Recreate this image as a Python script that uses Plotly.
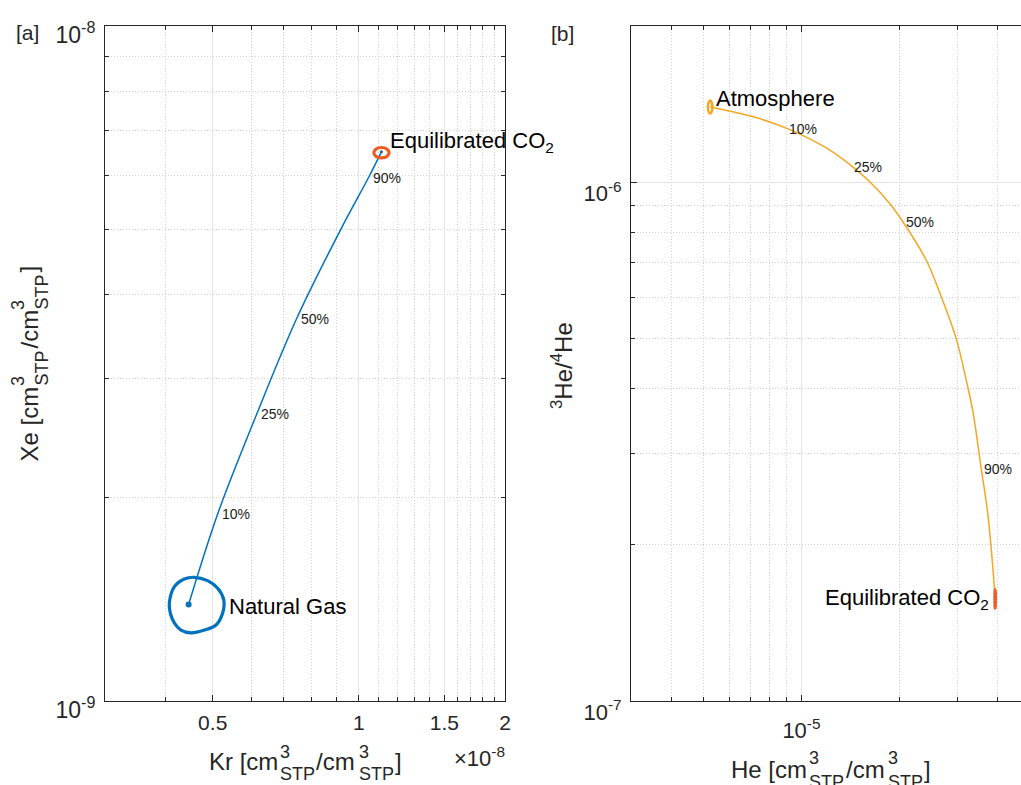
import numpy as np
import plotly.graph_objects as go

W, H = 1021, 785
FONT = "Liberation Sans, Arial, sans-serif"
AX = "#262626"
BLUE = "#0072BD"
RED = "#EF5B25"
YEL = "#F5A623"

# ---------------- Panel [a] data (Kr, Xe in cm3STP/cm3STP) ----------------
mix_a_kr = [0.446e-8, 0.513e-8, 0.617e-8, 0.745e-8, 0.918e-8, 1.049e-8, 1.113e-8]
mix_a_xe = [1.390e-9, 1.901e-9, 2.668e-9, 3.690e-9, 4.998e-9, 5.980e-9, 6.510e-9]

ng_kr = [0.407e-8, 0.417e-8, 0.437e-8, 0.458e-8, 0.488e-8, 0.512e-8, 0.527e-8, 0.524e-8,
         0.508e-8, 0.481e-8, 0.451e-8, 0.430e-8, 0.417e-8, 0.409e-8, 0.407e-8]
ng_xe = [1.395e-9, 1.477e-9, 1.516e-9, 1.525e-9, 1.508e-9, 1.469e-9, 1.411e-9, 1.349e-9,
         1.296e-9, 1.274e-9, 1.262e-9, 1.274e-9, 1.304e-9, 1.349e-9, 1.395e-9]

co2a_kr = [1.154e-8, 1.142e-8, 1.113e-8, 1.085e-8, 1.074e-8, 1.085e-8, 1.113e-8, 1.142e-8, 1.154e-8]
co2a_xe = [6.492e-9, 6.573e-9, 6.607e-9, 6.573e-9, 6.492e-9, 6.409e-9, 6.377e-9, 6.409e-9, 6.492e-9]

pct_labels = ["10%", "25%", "50%", "90%"]
pct_a_kr = [0.513e-8, 0.617e-8, 0.745e-8, 1.049e-8]
pct_a_xe = [1.901e-9, 2.668e-9, 3.690e-9, 5.980e-9]

# ---------------- Panel [b] data (He, 3He/4He) ----------------
mix_b_he = [0.525e-5, 0.726e-5, 0.898e-5, 1.034e-5, 1.219e-5, 1.423e-5, 1.617e-5, 1.862e-5,
            2.045e-5, 2.413e-5, 2.683e-5, 2.982e-5, 3.201e-5, 3.363e-5, 3.558e-5, 3.728e-5,
            3.862e-5, 3.928e-5]
mix_b_r = [1.396e-6, 1.332e-6, 1.271e-6, 1.221e-6, 1.154e-6, 1.075e-6, 1.003e-6, 0.911e-6,
           0.840e-6, 0.708e-6, 0.602e-6, 0.500e-6, 0.416e-6, 0.359e-6, 0.281e-6, 0.230e-6,
           0.1815e-6, 0.1572e-6]

atm_he = [0.5330e-5, 0.5306e-5, 0.5248e-5, 0.5190e-5, 0.5166e-5, 0.5190e-5, 0.5248e-5, 0.5306e-5, 0.5330e-5]
atm_r = [1.396e-6, 1.425e-6, 1.437e-6, 1.425e-6, 1.396e-6, 1.367e-6, 1.356e-6, 1.367e-6, 1.396e-6]

co2b_he = [3.934e-5, 3.932e-5, 3.928e-5, 3.924e-5, 3.922e-5, 3.924e-5, 3.928e-5, 3.932e-5, 3.934e-5]
co2b_r = [0.1572e-6, 0.1618e-6, 0.1638e-6, 0.1618e-6, 0.1572e-6, 0.1527e-6, 0.1510e-6, 0.1527e-6, 0.1572e-6]

pct_b_he = [0.898e-5, 1.423e-5, 2.045e-5, 3.558e-5]
pct_b_r = [1.271e-6, 1.075e-6, 0.840e-6, 0.281e-6]

# tick values
a_x_major = [0.5e-8, 1e-8, 1.5e-8, 2e-8]
a_x_major_text = ["0.5", "1", "1.5", "2"]
a_x_minor = [0.3e-8, 0.4e-8, 0.6e-8, 0.7e-8, 0.8e-8, 0.9e-8, 1.1e-8, 1.2e-8, 1.3e-8, 1.4e-8,
             1.6e-8, 1.7e-8, 1.8e-8, 1.9e-8]
a_y_major = [1e-9, 1e-8]
a_y_major_text = ["10<sup>-9</sup>", "10<sup>-8</sup>"]
a_y_minor = [2e-9, 3e-9, 4e-9, 5e-9, 6e-9, 7e-9, 8e-9, 9e-9]
b_x_major = [1e-5]
b_x_major_text = ["10<sup>-5</sup>"]
b_x_minor = [3e-6, 4e-6, 5e-6, 6e-6, 7e-6, 8e-6, 9e-6, 2e-5, 3e-5, 4e-5]
b_y_major = [1e-7, 1e-6]
b_y_major_text = ["10<sup>-7</sup>", "10<sup>-6</sup>"]
b_y_minor = [2e-7, 3e-7, 4e-7, 5e-7, 6e-7, 7e-7, 8e-7, 9e-7, 2e-6]

fig = go.Figure()

# Panel a traces
fig.add_trace(go.Scatter(x=mix_a_kr, y=mix_a_xe, mode="lines", line=dict(color=BLUE, width=1.5, shape="spline"),
                         xaxis="x", yaxis="y", hoverinfo="skip"))
fig.add_trace(go.Scatter(x=ng_kr, y=ng_xe, mode="lines", line=dict(color=BLUE, width=3.2, shape="spline"),
                         xaxis="x", yaxis="y", hoverinfo="skip"))
fig.add_trace(go.Scatter(x=co2a_kr, y=co2a_xe, mode="lines", line=dict(color=RED, width=3.2, shape="spline"),
                         xaxis="x", yaxis="y", hoverinfo="skip"))
fig.add_trace(go.Scatter(x=[mix_a_kr[0]], y=[mix_a_xe[0]], mode="markers",
                         marker=dict(color=BLUE, size=6), xaxis="x", yaxis="y", hoverinfo="skip"))
fig.add_trace(go.Scatter(x=[mix_a_kr[-1]], y=[mix_a_xe[-1]], mode="markers",
                         marker=dict(color="#3a5a80", size=3), xaxis="x", yaxis="y", hoverinfo="skip"))

# Panel b traces
fig.add_trace(go.Scatter(x=mix_b_he, y=mix_b_r, mode="lines", line=dict(color=YEL, width=1.5, shape="spline"),
                         xaxis="x2", yaxis="y2", hoverinfo="skip"))
fig.add_trace(go.Scatter(x=atm_he, y=atm_r, mode="lines", line=dict(color=YEL, width=2.5, shape="spline"),
                         xaxis="x2", yaxis="y2", hoverinfo="skip"))
fig.add_trace(go.Scatter(x=co2b_he, y=co2b_r, mode="lines", line=dict(color=RED, width=3.2, shape="spline"),
                         xaxis="x2", yaxis="y2", hoverinfo="skip"))

ann = []


def txt(s, x, y, size, xanchor="left", yanchor="middle", angle=0, color=AX):
    ann.append(dict(text=s, x=x / W, y=1 - y / H, xref="paper", yref="paper", showarrow=False,
                    xanchor=xanchor, yanchor=yanchor, textangle=angle, borderpad=0,
                    font=dict(family=FONT, size=size, color=color)))


def dtxt(s, xv, yv, xr, yr, size, xanchor="left", xshift=0, yshift=0, color="#000000"):
    ann.append(dict(text=s, x=np.log10(xv), y=np.log10(yv), xref=xr, yref=yr, showarrow=False,
                    xanchor=xanchor, yanchor="middle", xshift=xshift, yshift=yshift, borderpad=0,
                    font=dict(family=FONT, size=size, color=color)))


# percent labels
for lab, xv, yv in zip(pct_labels, pct_a_kr, pct_a_xe):
    dtxt(lab, xv, yv, "x", "y", 14, xshift=3, yshift=-1, color="#1a1a1a")
for lab, xv, yv in zip(pct_labels, pct_b_he, pct_b_r):
    dtxt(lab, xv, yv, "x2", "y2", 14, xshift=2, yshift=-1, color="#1a1a1a")

# end-member labels
dtxt("Natural Gas", mix_a_kr[0], mix_a_xe[0], "x", "y", 22, xshift=39, yshift=-2)
dtxt("Equilibrated CO<sub>2</sub>", mix_a_kr[-1], mix_a_xe[-1], "x", "y", 22, xshift=8, yshift=10)
dtxt("Atmosphere", atm_he[2], 1.396e-6, "x2", "y2", 22, xshift=5, yshift=9)
dtxt("Equilibrated CO<sub>2</sub>", mix_b_he[-1], mix_b_r[-1], "x2", "y2", 22, xanchor="right",
     xshift=-5, yshift=0)

# panel labels
txt("[a]", 27, 33, 21, xanchor="center")
txt("[b]", 562, 34, 21, xanchor="center")

# exponent label
txt("\u00d710<sup>-8</sup>", 506, 757, 22, xanchor="right")

# Kr title (stacked super/subscripts)
TS, SS = 24, 18
txt("Kr [cm", 279, 761.5, TS, xanchor="right")
txt("3", 279, 752, SS)
txt("STP", 279, 774, SS)
txt("/cm", 315, 761.5, TS)
txt("3", 357.5, 752, SS)
txt("STP", 357.5, 774, SS)
txt("]", 394, 761.5, TS)

# He title
txt("He [cm", 807.5, 769.5, TS, xanchor="right")
txt("3", 807.5, 758, SS)
txt("STP", 807.5, 782, SS)
txt("/cm", 845, 769.5, TS)
txt("3", 886.5, 758, SS)
txt("STP", 886.5, 782, SS)
txt("]", 923, 769.5, TS)

# Xe title (rotated)
txt("Xe [cm", 28.5, 424, TS, xanchor="center", angle=-90)
txt("3", 18, 381, SS, xanchor="center", angle=-90)
txt("STP", 41.5, 368, SS, xanchor="center", angle=-90)
txt("/cm", 28.5, 329, TS, xanchor="center", angle=-90)
txt("3", 18, 305, SS, xanchor="center", angle=-90)
txt("STP", 41.5, 292, SS, xanchor="center", angle=-90)
txt("]", 28.5, 269, TS, xanchor="center", angle=-90)

# 3He/4He title
txt("<sup>3</sup>He/<sup>4</sup>He", 562, 366, TS, xanchor="center", angle=-90)


def axis(domain, rng, tv, tt, minor_vals, mirror, tick_size, **kw):
    d = dict(type="log", domain=domain, range=rng, tickmode="array", tickvals=tv, ticktext=tt,
             ticks="inside", ticklen=6, tickwidth=1, tickcolor=AX, showline=True, linecolor=AX,
             linewidth=1, mirror=mirror, showgrid=True, gridcolor="#E4E4E4", gridwidth=1,
             zeroline=False, automargin=False, tickfont=dict(family=FONT, size=tick_size, color=AX),
             minor=dict(tickmode="array", tickvals=minor_vals, ticks="inside", ticklen=4,
                        tickcolor=AX, tickwidth=1, showgrid=True, gridcolor="#CFCFCF",
                        griddash="1px,2px", gridwidth=1),
             fixedrange=True)
    d.update(kw)
    return d


ydom = [1 - 701 / H, 1 - 26 / H]
fig.update_layout(
    width=W, height=H, margin=dict(l=0, r=0, t=0, b=0, autoexpand=False),
    paper_bgcolor="white", plot_bgcolor="white", showlegend=False,
    xaxis=axis([105 / W, 505 / W], [np.log10(0.3e-8), np.log10(2e-8)], a_x_major, a_x_major_text,
               a_x_minor, "allticks", 21, anchor="y", ticklabelstandoff=3),
    yaxis=axis(ydom, [-9, -8], a_y_major, a_y_major_text, a_y_minor, "allticks", 23,
               anchor="x", ticklabelstandoff=4, ticklabelshift=9),
    xaxis2=axis([631 / W, 1.0], [np.log10(3e-6), np.log10(3e-6) + 390 / 326], b_x_major, b_x_major_text,
                b_x_minor, "allticks", 22, anchor="y2", ticklabelstandoff=10),
    yaxis2=axis(ydom, [-7, np.log10(2e-6)], b_y_major, b_y_major_text, b_y_minor, False, 22,
                anchor="x2", ticklabelstandoff=4, ticklabelshift=11),
    annotations=ann,
)

fig.write_html("out.html")
